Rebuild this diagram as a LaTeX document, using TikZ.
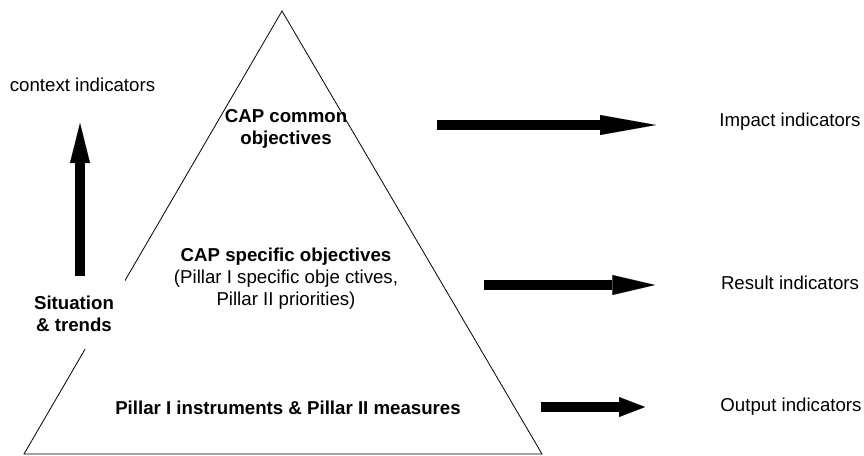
\documentclass[tikz,border=0pt]{standalone}
\usepackage{fontspec}
\setmainfont{Liberation Sans}
\usepackage{tikz}
\usetikzlibrary{arrows.meta}

\begin{document}
\begin{tikzpicture}[line cap=butt,line join=miter,x=0.75pt,y=0.75pt,
  txt/.style={font=\fontsize{14}{16.5}\selectfont,inner sep=0pt,align=center},
  boldtxt/.style={txt,font=\fontsize{14}{16.5}\selectfont\bfseries},
  fatarrow/.style={line width=7.5pt,-{Triangle[length=#1,width=15pt,line width=0.01pt]}}]
\useasboundingbox (0,0) rectangle (864,455);
\coordinate (apex) at (282,444);
\coordinate (bleft) at (24,1);
\coordinate (bright) at (542,1);
\draw [line width=0.6pt] (apex) -- (bright) -- (bleft) -- cycle;
\node [boldtxt] (common) at (286,326) {CAP common\\objectives};
\node [txt] (specific) at (286,176) {\textbf{CAP specific objectives}\\(Pillar I specific obje ctives,\\Pillar II priorities)};
\node [boldtxt] (measures) at (288,47) {Pillar I instruments \& Pillar II measures};
\node [boldtxt,fill=white,inner xsep=8pt,inner ysep=13pt] (situation) at (74,141) {Situation\\\& trends};
\node [txt] (context) at (82.5,370) {context indicators};
\node [txt] (impact) at (790,333) {Impact indicators};
\node [txt] (result) at (790,172.5) {Result indicators};
\node [txt] (output) at (791,48) {Output indicators};
\coordinate (up0) at (80,179);
\coordinate (up1) at (80,332);
\coordinate (imp0) at (437,330);
\coordinate (imp1) at (656,330);
\coordinate (res0) at (484,170);
\coordinate (res1) at (655,170);
\coordinate (out0) at (541,48);
\coordinate (out1) at (645,48);
\draw [fatarrow=30pt] (up0) -- (up1);
\draw [fatarrow=42pt] (imp0) -- (imp1);
\draw [fatarrow=32pt] (res0) -- (res1);
\draw [fatarrow=19.5pt] (out0) -- (out1);
\end{tikzpicture}
\end{document}
